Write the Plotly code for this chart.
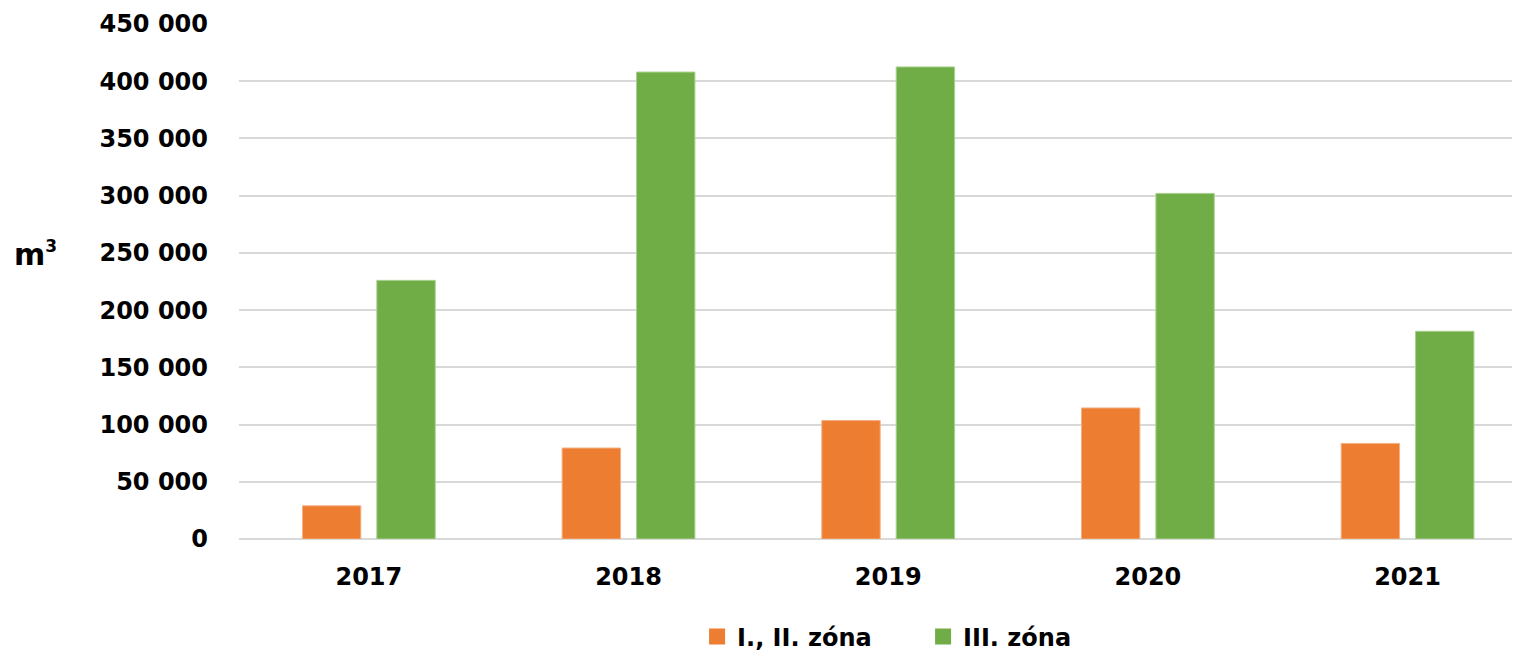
import plotly.graph_objects as go

years = ["2017", "2018", "2019", "2020", "2021"]
zona_1_2 = [29000, 79500, 103500, 114500, 83500]
zona_3 = [226000, 408000, 412500, 302000, 181500]
names = ["I., II. zóna", "III. zóna"]
colors = ["#ed7d31", "#70ad47"]
edges = ["#f4b183", "#a9d18e"]

font = dict(family="DejaVu Sans", size=24, color="#000000", weight="bold")

fig = go.Figure()
for vals, name, col, edge in zip([zona_1_2, zona_3], names, colors, edges):
    fig.add_trace(go.Bar(x=years, y=vals, name=name, showlegend=False,
                         marker=dict(color=col, line=dict(color=edge, width=1))))
# legend entries with bigger square keys
for name, col in zip(names, colors):
    fig.add_trace(go.Scatter(x=[None], y=[None], mode="markers", name=name,
                             marker=dict(symbol="square", size=17, color=col)))

# unit label left of the y axis
fig.add_annotation(text="m<sup><span style='font-size:17px'>3</span></sup>",
                   xref="paper", yref="paper", x=-0.1772, y=0.553,
                   xanchor="left", yanchor="middle", showarrow=False,
                   font=dict(family="DejaVu Sans", size=30, color="#000000", weight="bold"))

# page body adds 8px offset, so sizes/margins are shifted by 8
fig.update_layout(
    width=1512, height=643,
    margin=dict(l=231, r=0, t=16, b=112, autoexpand=False),
    plot_bgcolor="white", paper_bgcolor="white",
    separators=", ",
    barmode="group", bargap=0.427, bargroupgap=0.215,
    font=font,
    showlegend=True,
    legend=dict(orientation="h", x=0.3576, xanchor="left", y=-0.19, yanchor="middle",
                font=font, itemwidth=30, itemsizing="trace", entrywidth=181,
                traceorder="normal"),
)
fig.update_xaxes(range=[-0.5, 4.433], showgrid=False, showline=False, tickfont=font,
                 ticklabelstandoff=21, automargin=False)
fig.update_yaxes(range=[0, 450000], dtick=50000, tickformat=",", showgrid=True,
                 gridcolor="#d9d9d9", gridwidth=2, zeroline=True, zerolinecolor="#d9d9d9",
                 zerolinewidth=2, tickfont=font, ticklabelstandoff=30, automargin=False)

fig.write_html("out.html")
